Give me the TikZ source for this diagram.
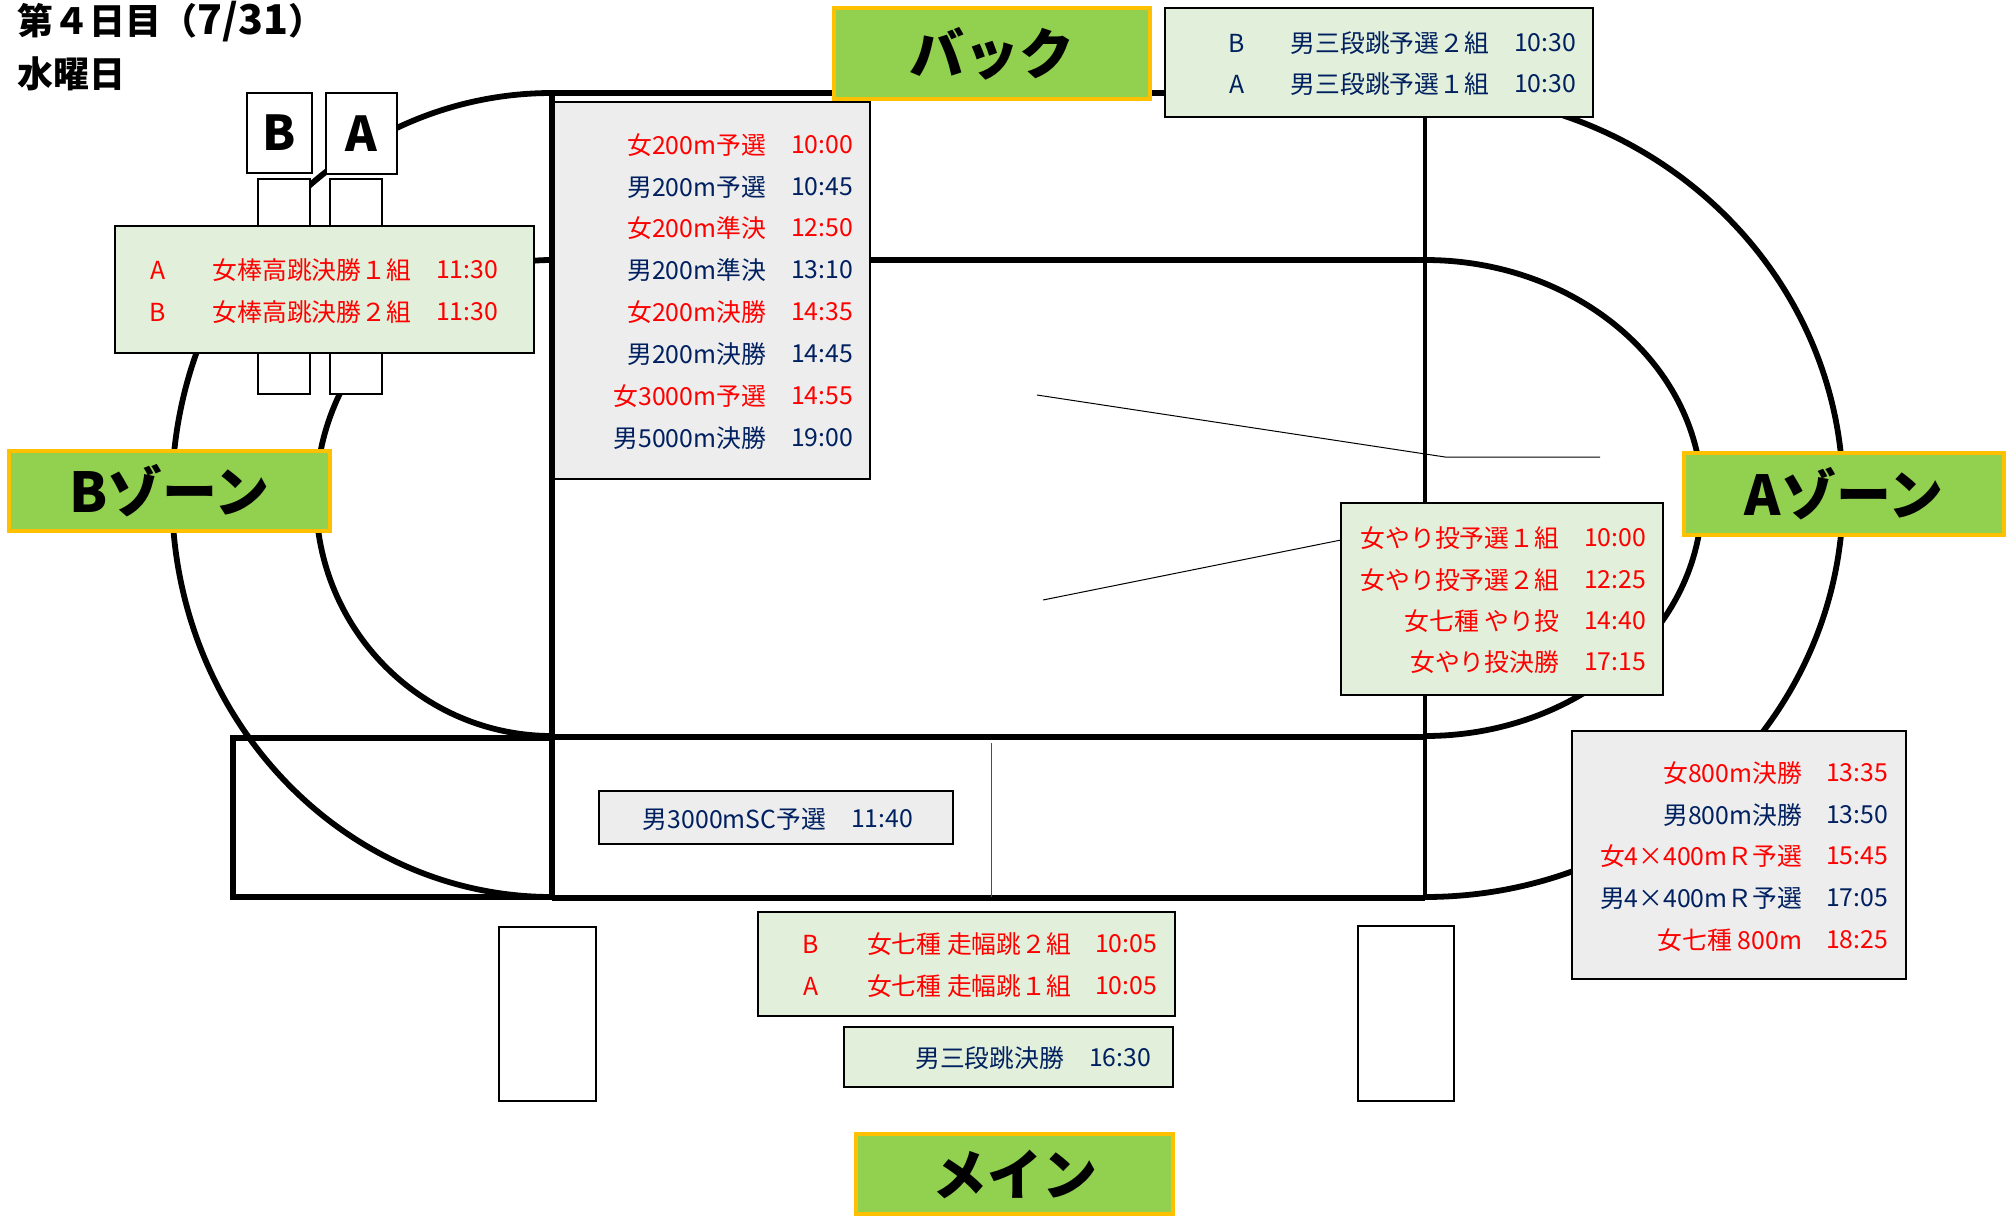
\documentclass[tikz,border=0pt]{standalone}
\usepackage{fontspec}
\setmainfont{Noto Sans CJK JP}
\usepackage{xcolor}
\usepackage{tikz}

\definecolor{womenRed}{HTML}{FF0000}
\definecolor{menNavy}{HTML}{002060}
\definecolor{zoneFill}{HTML}{92D050}
\definecolor{zoneEdge}{HTML}{FFC000}
\definecolor{fieldFill}{HTML}{E2EFDA}
\definecolor{trackFill}{HTML}{EDEDED}

\tikzset{
	trackLine/.style={line width=2.9pt},
	zoneBox/.style={draw=zoneEdge, fill=zoneFill, line width=1.6pt, inner sep=0pt, outer sep=0pt, font=\fontsize{27.5}{27.5}\selectfont\bfseries},
	fieldBox/.style={draw=black, fill=fieldFill, line width=1.4pt, inner sep=0pt, outer sep=0pt},
	runBox/.style={draw=black, fill=trackFill, line width=1.4pt, inner sep=0pt, outer sep=0pt},
	plainBox/.style={draw=black, fill=white, line width=1.1pt, inner sep=0pt, outer sep=0pt},
	pitBox/.style={draw=black, fill=white, line width=1.3pt, inner sep=0pt, outer sep=0pt, font=\fontsize{24}{24}\selectfont\bfseries},
	rowText/.style={inner sep=0pt, outer sep=0pt, font=\fontsize{12.4}{12.4}\selectfont},
	titleText/.style={inner sep=0pt, outer sep=0pt, anchor=west, font=\fontsize{18}{18}\selectfont\bfseries}
}

\newcommand{\panel}[7]{%
	\node[#1, minimum width={(#5-#3)*0.5pt}, minimum height={(#6-#4)*0.5pt}] (#2) at ({(#3+#5)/2},{(#4+#6)/2}) {#7};
}

\newcommand{\timeRows}[4]{%
	\foreach \tname/\ttime/\tcol/\ty [count=\i] in {#4}
	{
		\node[rowText, text=\tcol, anchor=east] (#1n\i) at (#2,\ty) {\tname};
		\node[rowText, text=\tcol, anchor=east] (#1t\i) at (#3,\ty) {\ttime};
	}
}

\begin{document}
\begin{tikzpicture}[x=0.5pt, y=-0.5pt]
	\useasboundingbox (0,0) rectangle (2007,1215);

	\node[titleText] (dayTitle) at (18,22) {第４日目（{\fontsize{20.5}{20.5}\selectfont 7/31}）};
	\node[titleText] (weekTitle) at (18,74) {水曜日};

	\begin{scope}[trackLine]
		\draw (552,93) arc [start angle=90, end angle=270, x radius=190pt, y radius=201pt];
		\draw (1425,93) arc [start angle=90, end angle=-90, x radius=209pt, y radius=201pt];
		\draw (552,260) arc [start angle=90, end angle=270, x radius=118pt, y radius=119pt];
		\draw (1425,260) arc [start angle=90, end angle=-90, x radius=138.5pt, y radius=119pt];
		\draw (552,93) -- (1425,93);
		\draw (552,260) -- (1425,260);
		\draw (552,93) -- (552,898);
		\draw[line width=2.3pt] (1425,93) -- (1425,898);
		\draw (552,737) -- (1425,737);
		\draw (233,738) rectangle (552,897);
		\draw (552,898) -- (1425,898);
	\end{scope}

	\begin{scope}
		\coordinate (discusFar) at (1037,395);
		\coordinate (discusBend) at (1445,457);
		\coordinate (discusEnd) at (1600,457);
		\coordinate (javelinFar) at (1043,600);
		\coordinate (javelinEnd) at (1341,540);
		\coordinate (finishTop) at (991,743);
		\coordinate (finishEnd) at (991,897);
		\draw[line width=0.5pt] (discusFar) -- (discusBend) -- (discusEnd);
		\draw[line width=0.5pt] (javelinFar) -- (javelinEnd);
		\draw[line width=0.4pt, black!70] (finishTop) -- (finishEnd);
	\end{scope}

	\begin{scope}
		\panel{plainBox}{pitLeft}{258}{179}{310}{394}{}
		\panel{plainBox}{pitRight}{330}{179}{382}{394}{}
		\panel{pitBox}{markB}{247}{93}{312}{173}{B}
		\panel{pitBox}{markA}{326}{93}{397}{174}{A}
		\panel{plainBox}{standLeft}{499}{927}{596}{1101}{}
		\panel{plainBox}{standRight}{1358}{926}{1454}{1101}{}
	\end{scope}

	\begin{scope}
		\panel{zoneBox}{zoneBack}{834}{8}{1150}{99}{バック}
		\panel{zoneBox}{zoneB}{9}{451}{330}{531}{Bゾーン}
		\panel{zoneBox}{zoneA}{1684}{453}{2004}{535}{Aゾーン}
		\panel{zoneBox}{zoneMain}{856}{1134}{1173}{1214}{メイン}
	\end{scope}

	\begin{scope}
		\panel{fieldBox}{poleBox}{115}{226}{534}{353}{}
		\panel{runBox}{sprintBox}{554}{102}{870}{479}{}
		\panel{fieldBox}{tripleBox}{1165}{8}{1593}{117}{}
		\panel{fieldBox}{javelinBox}{1341}{503}{1663}{695}{}
		\panel{runBox}{middleBox}{1572}{731}{1906}{979}{}
		\panel{runBox}{steepleBox}{599}{791}{953}{844}{}
		\panel{fieldBox}{longBox}{758}{912}{1175}{1016}{}
		\panel{fieldBox}{tripleFinalBox}{844}{1027}{1173}{1087}{}
	\end{scope}

	\begin{scope}
		\timeRows{sprint}{766}{853}{女200m予選/10:00/womenRed/145, 男200m予選/10:45/menNavy/187, 女200m準決/12:50/womenRed/228, 男200m準決/13:10/menNavy/270, 女200m決勝/14:35/womenRed/312, 男200m決勝/14:45/menNavy/354, 女3000m予選/14:55/womenRed/396, 男5000m決勝/19:00/menNavy/438}
		\timeRows{pole}{411}{498}{女棒高跳決勝１組/11:30/womenRed/270, 女棒高跳決勝２組/11:30/womenRed/312}
		\timeRows{triple}{1489}{1576}{男三段跳予選２組/10:30/menNavy/43, 男三段跳予選１組/10:30/menNavy/84}
		\timeRows{javelin}{1559}{1646}{女やり投予選１組/10:00/womenRed/538, 女やり投予選２組/12:25/womenRed/580, 女七種 やり投/14:40/womenRed/621, 女やり投決勝/17:15/womenRed/662}
		\timeRows{middle}{1802}{1888}{女800m決勝/13:35/womenRed/773, 男800m決勝/13:50/menNavy/815, 女4×400mＲ予選/15:45/womenRed/856, 男4×400mＲ予選/17:05/menNavy/898, 女七種 800m/18:25/womenRed/940}
		\timeRows{steeple}{826}{913}{男3000mSC予選/11:40/menNavy/819}
		\timeRows{long}{1071}{1157}{女七種 走幅跳２組/10:05/womenRed/944, 女七種 走幅跳１組/10:05/womenRed/986}
		\timeRows{tripleFinal}{1064}{1151}{男三段跳決勝/16:30/menNavy/1058}
	\end{scope}

	\begin{scope}
		\node[rowText, text=womenRed] (poleA) at (158,270) {A};
		\node[rowText, text=womenRed] (poleB) at (158,312) {B};
		\node[rowText, text=menNavy] (tripleB) at (1237,43) {B};
		\node[rowText, text=menNavy] (tripleA) at (1237,84) {A};
		\node[rowText, text=womenRed] (longB) at (811,944) {B};
		\node[rowText, text=womenRed] (longA) at (811,986) {A};
	\end{scope}
\end{tikzpicture}
\end{document}
